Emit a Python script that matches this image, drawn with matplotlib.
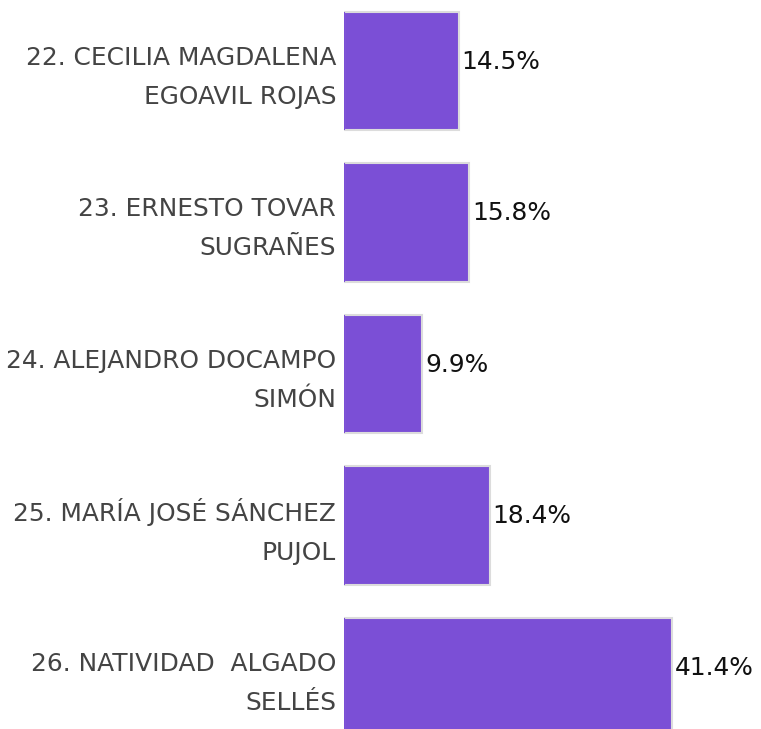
import numpy as np
import matplotlib.pyplot as plt

# datos
labels = ['22. CECILIA MAGDALENA\nEGOAVIL ROJAS',
          '23. ERNESTO TOVAR\nSUGRAÑES',
          '24. ALEJANDRO DOCAMPO\nSIMÓN',
          '25. MARÍA JOSÉ SÁNCHEZ\nPUJOL',
          '26. NATIVIDAD  ALGADO\nSELLÉS']
values = [14.5, 15.8, 9.9, 18.4, 41.4]

bar_color = '#7b4fd6'
h = 0.78

fig = plt.figure(figsize=(7.61, 7.29), dpi=100)
ax = fig.add_axes([344/761, 0, 1 - 344/761, 1])

y = np.arange(len(values))
ax.barh(y, values, height=h, color=bar_color, edgecolor='#dcdcdc', linewidth=1.5)
# borde izquierdo de cada barra
ax.vlines(np.zeros(len(values)), y - h/2, y + h/2, color=bar_color, linewidth=1.5)

ax.set_ylim(4.343, -0.469)
ax.set_xlim(0, 52.65)

for i, v in enumerate(values):
    ax.text(v + 0.35, i - 0.06, '%.1f%%' % v, ha='left', va='center',
            fontsize=17.9, color='#111111')

for i, lab in enumerate(labels):
    ax.text(-1.0, i + 0.04, lab, ha='right', va='center', fontsize=17.9,
            color='#444444', linespacing=1.78)

for s in ['top', 'right', 'bottom', 'left']:
    ax.spines[s].set_visible(False)
ax.set_xticks([])
ax.set_yticks([])

plt.savefig('out.png', dpi=100)
